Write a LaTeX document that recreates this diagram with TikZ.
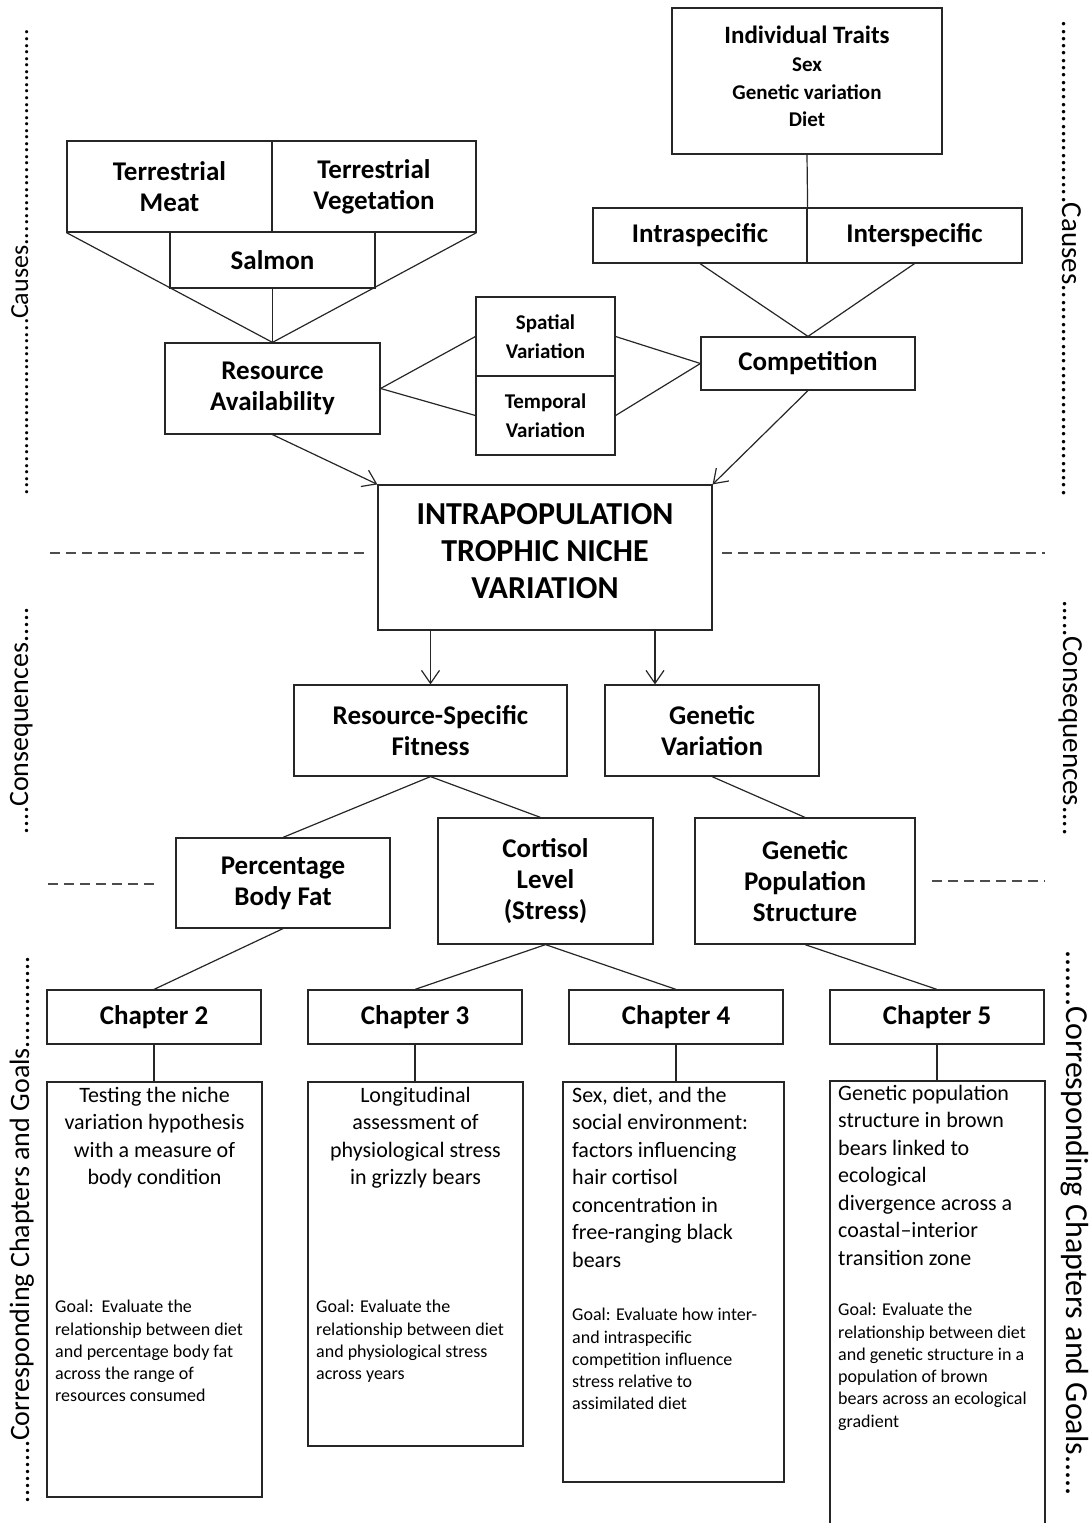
\documentclass[tikz,border=0pt]{standalone}
\usepackage{fontspec}
\setmainfont{Carlito}
\usetikzlibrary{arrows.meta,calc}
\begin{document}
\begin{tikzpicture}[x=1pt,y=-1pt,
  box/.style={draw=black!85, line width=1.2pt, inner sep=0pt, align=center,
    font=\bfseries\fontsize{27}{31}\selectfont},
  smallbox/.style={box, font=\bfseries\fontsize{21}{29}\selectfont},
  bigbox/.style={box, font=\bfseries\fontsize{32}{37}\selectfont},
  frame/.style={draw=black!85, line width=1.2pt, inner sep=0pt},
  title/.style={inner sep=0pt, font=\fontsize{22}{27.5}\selectfont},
  goal/.style={inner sep=0pt, align=left, anchor=north west, font=\fontsize{18}{22.3}\selectfont},
  ln/.style={draw=black!85, line width=1.2pt},
  arr/.style={ln, -{Straight Barb[length=13pt,width=18pt]}},
  dsh/.style={draw=black!70, line width=1.2pt, dash pattern=on 10pt off 6pt},
  sidel/.style={inner sep=0pt, anchor=base, rotate=90},
  sider/.style={inner sep=0pt, anchor=base, rotate=-90}
]
\useasboundingbox (0,0) rectangle (1089,1523);

% ---------- Causes ----------
\node[box, font=\bfseries\fontsize{21}{27.5}\selectfont, minimum width=270pt, minimum height=146pt] (it) at (807,81)
  {{\fontsize{25}{30}\selectfont Individual Traits}\\[1pt]
   Sex\\
   Genetic variation\\
   Diet\\[-18pt]};
\node[box, minimum width=214pt, minimum height=55pt] (intra) at (700,235.5) {Intraspecific};
\node[box, minimum width=215pt, minimum height=55pt] (inter) at (914.5,235.5) {Interspecific};

\node[box, minimum width=205pt, minimum height=91pt] (tm) at (169.5,186.5) {Terrestrial\\Meat};
\node[box, minimum width=204pt, minimum height=91pt] (tv) at (374,186.5) {Terrestrial\\Vegetation};
\node[box, minimum width=205pt, minimum height=56pt] (sal) at (272.5,260) {Salmon};

\node[box, minimum width=215pt, minimum height=91pt] (ra) at (272.5,388.5) {Resource\\Availability};
\node[smallbox, minimum width=139pt, minimum height=79pt] (sv) at (545.5,336.5) {Spatial\\Variation};
\node[smallbox, minimum width=139pt, minimum height=79pt] (tpv) at (545.5,415.5) {Temporal\\Variation};
\node[box, minimum width=214pt, minimum height=53pt] (comp) at (808,363.5) {Competition};

\node[bigbox, minimum width=334pt, minimum height=145pt] (ip) at (545,557.5)
  {INTRAPOPULATION\\TROPHIC NICHE\\VARIATION\\[-24pt]};

% connectors (causes)
\draw[ln] (it.south) -- (intra.north east);
\draw[ln] (intra.south) -- (comp.north);
\draw[ln] (inter.south) -- (comp.north);
\draw[ln] (tm.south west) -- (ra.north);
\draw[ln] (tv.south east) -- (ra.north);
\draw[ln] (sal.south) -- (ra.north);
\draw[ln] (ra.east) -- (sv.west);
\draw[ln] (ra.east) -- (tpv.west);
\draw[ln] (sv.east) -- (comp.west);
\draw[ln] (tpv.east) -- (comp.west);
\draw[arr] (ra.south) -- (ip.north west);
\draw[arr] (comp.south) -- (ip.north east);

% dashed separators
\coordinate (dl1a) at (50,553);  \coordinate (dl1b) at (365,553);
\coordinate (dr1a) at (722,553); \coordinate (dr1b) at (1045,553);
\coordinate (dl2a) at (48,884);  \coordinate (dl2b) at (160,884);
\coordinate (dr2a) at (932,881); \coordinate (dr2b) at (1045,881);
\draw[dsh] (dl1a) -- (dl1b);
\draw[dsh] (dr1a) -- (dr1b);
\draw[dsh] (dl2a) -- (dl2b);
\draw[dsh] (dr2a) -- (dr2b);

% ---------- Consequences ----------
\node[box, minimum width=273pt, minimum height=91pt] (rsf) at (430.5,730.5) {Resource-Specific\\Fitness};
\node[box, minimum width=214pt, minimum height=91pt] (gv) at (712,730.5) {Genetic\\Variation};
\node[box, minimum width=214pt, minimum height=90pt] (pbf) at (283,883) {Percentage\\Body Fat};
\node[box, minimum width=215pt, minimum height=126pt] (cort) at (545.5,881) {Cortisol\\Level\\(Stress)};
\node[box, minimum width=220pt, minimum height=126pt] (gps) at (805,881) {Genetic\\Population\\Structure};

\coordinate (gvx) at (655,0);
\draw[arr] (ip.south -| rsf.north) -- (rsf.north);
\draw[arr] (ip.south -| gvx) -- (gv.north -| gvx);
\draw[ln] (rsf.south) -- (pbf.north);
\draw[ln] (rsf.south) -- ($(cort.north)+(-5,0)$);
\draw[ln] (gv.south) -- (gps.north);

% ---------- Chapters ----------
\node[box, minimum width=214pt, minimum height=54pt] (ch2) at (154,1017) {Chapter 2};
\node[box, minimum width=214pt, minimum height=54pt] (ch3) at (415,1017) {Chapter 3};
\node[box, minimum width=214pt, minimum height=54pt] (ch4) at (676,1017) {Chapter 4};
\node[box, minimum width=214pt, minimum height=54pt] (ch5) at (937,1017) {Chapter 5};

\draw[ln] (pbf.south) -- (ch2.north);
\draw[ln] (cort.south) -- (ch3.north);
\draw[ln] (cort.south) -- (ch4.north);
\draw[ln] (gps.south) -- (ch5.north);

\node[frame, minimum width=215pt, minimum height=415pt] (d2) at (154.5,1289.5) {};
\node[frame, minimum width=215pt, minimum height=364pt] (d3) at (415.5,1264) {};
\node[frame, minimum width=221pt, minimum height=400pt] (d4) at (673.5,1282) {};
\node[frame, minimum width=215pt, minimum height=459pt] (d5) at (937.5,1310.5) {};

\draw[ln] (ch2.south) -- (ch2.south |- d2.north);
\draw[ln] (ch3.south) -- (ch3.south |- d3.north);
\draw[ln] (ch4.south) -- (ch4.south |- d4.north);
\draw[ln] (ch5.south) -- (ch5.south |- d5.north);

\node[title, align=center, anchor=north] (t2) at (154.5,1087)
  {Testing the niche\\variation hypothesis\\with a measure of\\body condition};
\node[title, align=center, anchor=north] (t3) at (415.5,1087)
  {Longitudinal\\assessment of\\physiological stress\\in grizzly bears};
\node[title, align=left, anchor=north west] (t4) at (572,1087)
  {Sex, diet, and the\\social environment:\\factors influencing\\hair cortisol\\concentration in\\free-ranging black\\bears};
\node[title, align=left, anchor=north west] (t5) at (838,1085)
  {Genetic population\\structure in brown\\bears linked to\\ecological\\divergence across a\\coastal--interior\\transition zone};

\node[goal] (g2) at (55,1300)
  {Goal:\ \ Evaluate the\\relationship between diet\\and percentage body fat\\across the range of\\resources consumed};
\node[goal] (g3) at (316,1300)
  {Goal: Evaluate the\\relationship between diet\\and physiological stress\\across years};
\node[goal] (g4) at (572,1308)
  {Goal: Evaluate how inter-\\and intraspecific\\competition influence\\stress relative to\\assimilated diet};
\node[goal] (g5) at (838,1303)
  {Goal: Evaluate the\\relationship between diet\\and genetic structure in a\\population of brown\\bears across an ecological\\gradient};

% ---------- side labels ----------
\node[sidel, font=\fontsize{26}{30}\selectfont] (lc) at (28,262)
  {...........................Causes.................................};
\node[sidel, font=\fontsize{28}{32}\selectfont] (lq) at (28,721)
  {....Consequences.....};
\node[sidel, font=\fontsize{28}{32}\selectfont] (lg) at (29,1230)
  {.........Corresponding Chapters and Goals.............};
\node[sider, font=\fontsize{29}{33}\selectfont] (rc) at (1062,259)
  {.........................Causes.............................};
\node[sider, font=\fontsize{29}{33}\selectfont] (rq) at (1063,718)
  {.....Consequences....};
\node[sider, font=\fontsize{32}{36}\selectfont] (rg) at (1066,1223)
  {.......Corresponding Chapters and Goals.....};
\end{tikzpicture}
\end{document}
